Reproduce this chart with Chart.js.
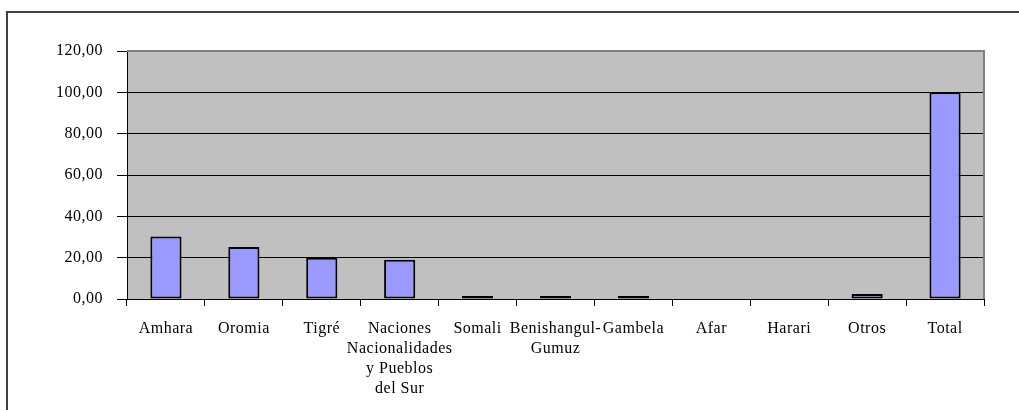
<!DOCTYPE html>
<html lang="es">
<head>
    <meta charset="UTF-8">
    <title>Población por región</title>
    <script src="https://cdn.jsdelivr.net/npm/chart.js"></script>
    <style>
        html, body {
            margin: 0;
            padding: 0;
            background: #ffffff;
            overflow: hidden;
        }
        /* outer frame, only top and left edges are visible */
        .frame {
            position: absolute;
            left: 6px;
            top: 11px;
            width: 1100px;
            height: 500px;
            border-top: 2px solid #404040;
            border-left: 2px solid #404040;
        }
        #barChart {
            position: absolute;
            left: 0;
            top: 0;
        }
    </style>
</head>
<body>
    <div class="frame"></div>
    <canvas id="barChart" width="1019" height="410"></canvas>

    <script>
        // Data
        const categories = [
            'Amhara',
            'Oromia',
            'Tigré',
            ['Naciones', 'Nacionalidades', 'y Pueblos', 'del Sur'],
            'Somali',
            ['Benishangul-', 'Gumuz'],
            'Gambela',
            'Afar',
            'Harari',
            'Otros',
            'Total'
        ];
        const percentages = [30.3, 25.2, 20.0, 19.0, 1.4, 1.5, 1.4, 0, 0, 2.4, 100];
        const yTicks = [0, 20, 40, 60, 80, 100, 120];

        const serif = "'Liberation Serif', 'DejaVu Serif', serif";

        // grey plot background plus grey top/right border
        const plotBackground = {
            id: 'plotBackground',
            beforeDraw(chart) {
                const { ctx, chartArea: a } = chart;
                ctx.letterSpacing = '0.5px';
                ctx.save();
                ctx.fillStyle = '#c0c0c0';
                ctx.fillRect(a.left, a.top, a.right - a.left, a.bottom - a.top);
                ctx.restore();
            },
            afterDatasetsDraw(chart) {
                const { ctx, chartArea: a } = chart;
                ctx.save();
                ctx.strokeStyle = '#808080';
                ctx.lineWidth = 2;
                ctx.beginPath();
                ctx.moveTo(a.left, a.top);
                ctx.lineTo(a.right, a.top);
                ctx.lineTo(a.right, a.bottom);
                ctx.stroke();
                ctx.restore();
            }
        };

        const barCtx = document.getElementById('barChart').getContext('2d');
        const barChart = new Chart(barCtx, {
            type: 'bar',
            data: {
                labels: categories,
                datasets: [{
                    data: percentages,
                    backgroundColor: '#9999ff',
                    borderColor: '#000000',
                    borderWidth: 2,
                    borderSkipped: false,
                    barPercentage: 0.4,
                    categoryPercentage: 1.0
                }]
            },
            options: {
                responsive: false,
                animation: false,
                devicePixelRatio: 1,
                layout: {
                    padding: { left: 0, top: 51, right: 35, bottom: 0 }
                },
                plugins: {
                    legend: { display: false },
                    tooltip: { enabled: false }
                },
                scales: {
                    x: {
                        offset: true,
                        grid: {
                            offset: true,
                            drawOnChartArea: false,
                            color: '#000000',
                            tickLength: 7
                        },
                        border: { color: '#000000', width: 1 },
                        ticks: {
                            color: '#000000',
                            maxRotation: 0,
                            autoSkip: false,
                            padding: 13,
                            font: { family: serif, size: 16, lineHeight: 1.25 }
                        },
                        afterFit(scale) { scale.height = 111; }
                    },
                    y: {
                        min: 0,
                        max: 120,
                        afterBuildTicks(scale) {
                            scale.ticks = yTicks.map(v => ({ value: v }));
                        },
                        grid: {
                            color: ctx => ctx.tick && ctx.tick.value === 120 ? '#808080' : '#000000',
                            lineWidth: 1,
                            tickLength: 10,
                            tickColor: '#000000'
                        },
                        border: { color: '#000000', width: 1 },
                        ticks: {
                            color: '#000000',
                            padding: 14,
                            font: { family: serif, size: 16 },
                            callback: v => v.toFixed(2).replace('.', ',')
                        },
                        afterFit(scale) { scale.width = 127; }
                    }
                }
            },
            plugins: [plotBackground]
        });
    </script>
</body>
</html>
